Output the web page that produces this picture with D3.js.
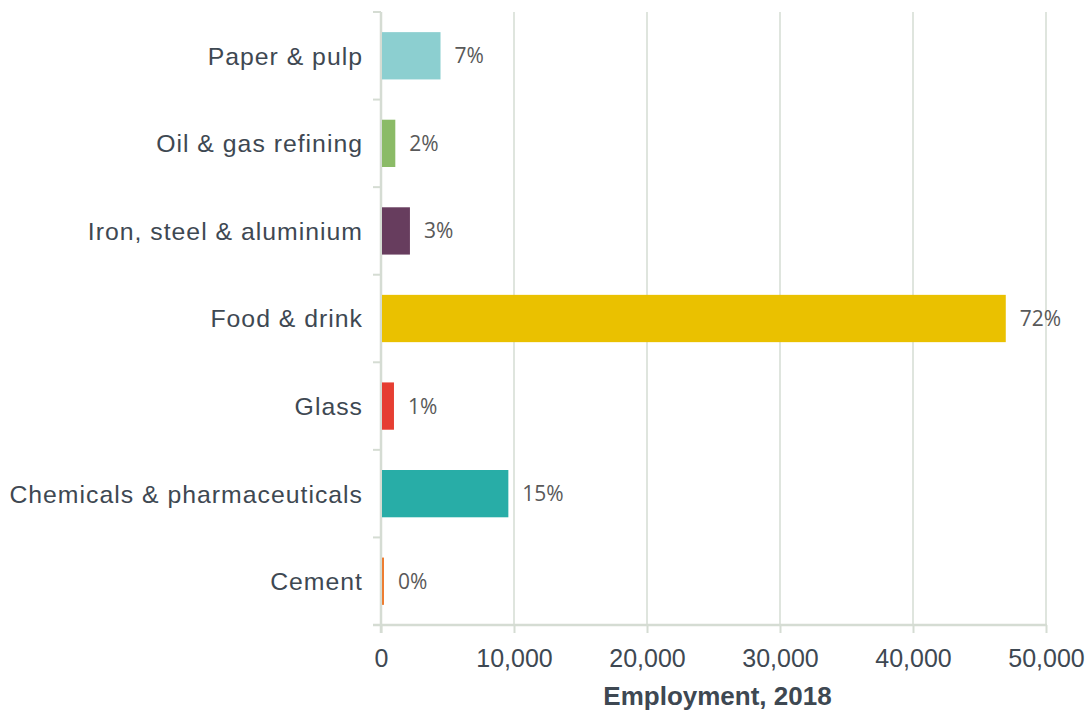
<!DOCTYPE html>
<html>
<head>
<meta charset="utf-8">
<script src="https://cdn.jsdelivr.net/npm/d3@7/dist/d3.min.js"></script>
<style>
  html, body { margin: 0; padding: 0; background: #ffffff; }
  svg { display: block; }
</style>
</head>
<body>
<svg id="chart" width="1092" height="711"></svg>
<script>
// ---- data ----
const categories = ["Paper & pulp", "Oil & gas refining", "Iron, steel & aluminium", "Food & drink", "Glass", "Chemicals & pharmaceuticals", "Cement"];
const employment = [4400, 1000, 2100, 46900, 900, 9500, 150];
const shareLabels = ["7%", "2%", "3%", "72%", "1%", "15%", "0%"];
const barColors = ["#8ccfd0", "#8bbb67", "#673d5e", "#eac100", "#e63e32", "#28ada7", "#ed7d31"];
const xTicks = [0, 10000, 20000, 30000, 40000, 50000];
const xTitle = "Employment, 2018";

// ---- layout ----
const svg = d3.select("#chart");
const plotLeft = 381, plotRight = 1046, plotTop = 12, plotBottom = 625;
const axisColor = "#d5dcd3";
const textColor = "#3e4852";

const x = d3.scaleLinear().domain([0, 50000]).range([plotLeft, plotRight]);
const y = d3.scaleBand().domain(categories).range([plotTop, plotBottom]).paddingInner(0.46).paddingOuter(0.23);

// gridlines
svg.append("g").selectAll("line")
  .data(xTicks.slice(1))
  .join("line")
  .attr("x1", d => x(d)).attr("x2", d => x(d))
  .attr("y1", plotTop).attr("y2", plotBottom)
  .attr("stroke", axisColor).attr("stroke-width", 1.5);

// x axis
const xAxis = svg.append("g")
  .attr("transform", `translate(0,${plotBottom})`)
  .call(d3.axisBottom(x).tickValues(xTicks).tickSize(8).tickPadding(16).tickFormat(d3.format(",")));
xAxis.select(".domain").remove();
xAxis.selectAll(".tick line").attr("stroke", axisColor).attr("stroke-width", 2);
xAxis.selectAll(".tick text")
  .attr("fill", textColor)
  .style("font-family", "'Liberation Sans', Arial, sans-serif")
  .style("font-size", "25px");
svg.append("line")
  .attr("x1", plotLeft - 8).attr("x2", plotRight + 1)
  .attr("y1", plotBottom).attr("y2", plotBottom)
  .attr("stroke", axisColor).attr("stroke-width", 2.5);

// y axis: domain line and boundary ticks
const boundaries = d3.range(categories.length + 1).map(i => plotTop + i * y.step());
svg.append("line")
  .attr("x1", plotLeft).attr("x2", plotLeft)
  .attr("y1", plotTop).attr("y2", plotBottom + 8)
  .attr("stroke", axisColor).attr("stroke-width", 2.5);
svg.append("g").selectAll("line")
  .data(boundaries)
  .join("line")
  .attr("x1", plotLeft - 8).attr("x2", plotLeft)
  .attr("y1", d => d).attr("y2", d => d)
  .attr("stroke", axisColor).attr("stroke-width", 2);

const yAxis = svg.append("g")
  .attr("transform", `translate(${plotLeft},0)`)
  .call(d3.axisLeft(y).tickSize(0).tickPadding(18));
yAxis.select(".domain").remove();
yAxis.selectAll(".tick text")
  .attr("fill", textColor)
  .attr("dy", "0.36em")
  .style("font-family", "'Liberation Sans', Arial, sans-serif")
  .style("font-size", "24.8px")
  .style("letter-spacing", "1px");

// bars
const rows = categories.map((c, i) => ({ cat: c, value: employment[i], label: shareLabels[i], color: barColors[i] }));
svg.append("g").selectAll("rect")
  .data(rows)
  .join("rect")
  .attr("x", x(0) + 1)
  .attr("y", d => y(d.cat))
  .attr("width", d => Math.max(1.5, x(d.value) - x(0)))
  .attr("height", y.bandwidth())
  .attr("fill", d => d.color);

// value labels
svg.append("g").selectAll("text")
  .data(rows)
  .join("text")
  .attr("x", d => x(d.value) + 15)
  .attr("y", d => y(d.cat) + y.bandwidth() / 2)
  .attr("dy", "0.36em")
  .attr("fill", "#595959")
  .style("font-family", "'Open Sans', sans-serif")
  .style("font-size", "21px")
  .text(d => d.label);

// axis title
svg.append("text")
  .attr("x", (plotLeft + plotRight) / 2 + 4)
  .attr("y", 705)
  .attr("text-anchor", "middle")
  .attr("fill", textColor)
  .style("font-family", "'Liberation Sans', Arial, sans-serif")
  .style("font-weight", "bold")
  .style("font-size", "26px")
  .text(xTitle);
</script>
</body>
</html>
